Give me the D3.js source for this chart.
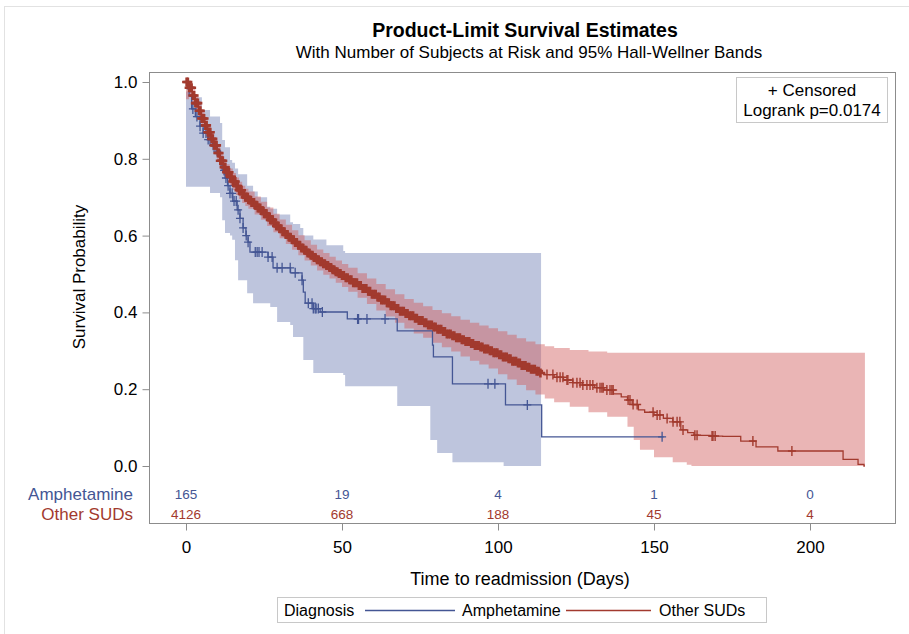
<!DOCTYPE html>
<meta charset="utf-8">
<title>Product-Limit Survival Estimates</title>
<script src="https://cdn.jsdelivr.net/npm/d3@7"></script>
<style>
  body { margin: 0; background: #fff; }
  svg text { font-family: "Liberation Sans", Arial, sans-serif; }
  .axis path, .axis line { stroke: #8c8c8c; }
  .axis text { font-size: 17px; fill: #000; }
</style>
<body>
<svg></svg>
<script>
// ---- data ----
var groups = ["Amphetamine", "Other SUDs"];
var riskDays = [0, 50, 100, 150, 200];
var riskAmph = [165, 19, 4, 1, 0];
var riskOther = [4126, 668, 188, 45, 4];
var yTicks = [0, 0.2, 0.4, 0.6, 0.8, 1.0];
var xTicks = [0, 50, 100, 150, 200];

// [day, survival] step points
var amphSurv = [[0,1.0],[0.5,0.982],[1,0.964],[1.8,0.93],[3,0.91],[4.5,0.885],[5.5,0.867],[7,0.85],[8.5,0.835],
  [10,0.82],[11,0.795],[11.6,0.77],[12.5,0.75],[13.3,0.73],[14.1,0.71],[15,0.69],[16.4,0.667],[17.3,0.645],
  [18.3,0.62],[19.2,0.6],[19.9,0.583],[20.5,0.557],[26.3,0.544],[27.9,0.516],[33.5,0.503],[37.2,0.484],
  [37.6,0.453],[38.2,0.424],[40.8,0.41],[43,0.401],[51.7,0.383],[67.7,0.352],[79,0.315],[79.3,0.284],
  [85.4,0.214],[102.4,0.159],[114,0.076],[153.1,0.076]];
var otherSurv = [[0,1.0],[1,0.985],[2,0.965],[3,0.945],[4,0.925],[5,0.905],[6,0.887],[7,0.869],[8,0.852],
  [9,0.835],[10,0.815],[11,0.795],[12,0.778],[13,0.765],[14,0.753],[15,0.741],[16,0.729],[17,0.718],[18,0.708],
  [19,0.7],[20,0.693],[21,0.686],[22,0.679],[23,0.672],[24,0.665],[25,0.657],[26,0.649],[27,0.641],[28,0.633],
  [29,0.625],[30,0.618],[31,0.61],[32,0.603],[33,0.596],[34,0.589],[35,0.582],[36,0.575],[37,0.568],[38,0.562],
  [39,0.555],[40,0.549],[41,0.543],[42,0.537],[43,0.532],[44,0.527],[45,0.522],[46,0.517],[47,0.511],[48,0.506],
  [49,0.501],[50,0.496],[51,0.49],[52,0.485],[53.5,0.477],[55,0.47],[56.5,0.462],[58,0.455],[59.5,0.447],
  [61,0.44],[62.5,0.432],[64,0.425],[65.5,0.417],[67,0.41],[68.5,0.403],[70,0.397],[71.5,0.391],[73,0.385],
  [74.5,0.379],[76,0.373],[77.5,0.367],[79,0.362],[80.5,0.356],[82,0.35],[83.5,0.344],[85,0.339],[86.5,0.334],
  [88,0.329],[89.5,0.324],[91,0.319],[92.5,0.314],[94,0.31],[95.5,0.305],[97,0.3],[98.5,0.295],[100,0.29],
  [101.5,0.284],[103,0.279],[104.5,0.273],[106,0.268],[107.5,0.262],[109,0.257],[110.5,0.252],[112,0.247],
  [113.5,0.242],[115,0.238],[118,0.231],[121,0.224],[124,0.217],[127,0.211],[131,0.204],
  [134,0.198],[137,0.188],[139.5,0.18],[141.5,0.172],[143,0.16],[145,0.146],[147,0.14],[150,0.133],[153,0.124],
  [156,0.115],[158.6,0.094],[160.8,0.087],[162.8,0.08],[168,0.078],[172,0.077],[177.8,0.065],[182.7,0.05],
  [189.7,0.039],[210.6,0.017],[215.4,0.004],[217.3,0],[217.6,0]];

// [day, lower, upper] Hall-Wellner band steps
var amphBand = [[0,0.727,0.975],[2.2,0.727,0.96],[5.1,0.727,0.927],[7.7,0.711,0.91],[10.9,0.7,0.893],
  [11.6,0.64,0.849],[12.5,0.607,0.83],[14.1,0.6,0.797],[14.8,0.589,0.79],[15.7,0.536,0.775],[16.7,0.484,0.76],
  [19.6,0.45,0.73],[21.5,0.424,0.715],[23,0.424,0.7],[26,0.424,0.675],[27,0.414,0.67],[29.2,0.375,0.655],
  [33.4,0.367,0.635],[34.3,0.336,0.63],[36.6,0.336,0.62],[37.6,0.276,0.6],[40.8,0.242,0.59],[45,0.242,0.575],
  [50.4,0.237,0.56],[51,0.208,0.555],[67.7,0.156,0.555],[78.3,0.068,0.555],[80.5,0.034,0.555],
  [85.4,0.01,0.555],[101.8,0,0.555],[113.8,0,0.555]];
var otherBand = [[0,0.955,1.0],[1,0.962,0.998],[2,0.945,0.982],[3,0.925,0.963],[4,0.905,0.944],[5,0.884,0.925],
  [6,0.866,0.907],[7,0.848,0.889],[8,0.831,0.872],[9,0.813,0.855],[10,0.793,0.836],[11,0.773,0.816],
  [12,0.756,0.799],[13,0.743,0.786],[14,0.731,0.775],[15,0.719,0.763],[16,0.706,0.751],[17,0.695,0.74],
  [18,0.685,0.73],[19,0.677,0.722],[20,0.67,0.715],[22,0.655,0.702],[24,0.641,0.688],[26,0.625,0.673],
  [28,0.609,0.657],[30,0.593,0.642],[32,0.578,0.628],[34,0.563,0.614],[36,0.549,0.601],[38,0.535,0.588],
  [40,0.522,0.576],[42,0.509,0.564],[44,0.498,0.555],[46,0.488,0.545],[48,0.477,0.535],[50,0.466,0.526],
  [52,0.454,0.516],[55,0.438,0.502],[58,0.422,0.488],[61,0.405,0.474],[64,0.389,0.46],[67,0.373,0.447],
  [70,0.358,0.435],[73,0.345,0.425],[76,0.334,0.416],[79,0.321,0.406],[82,0.309,0.398],[85,0.298,0.39],
  [88,0.285,0.381],[91,0.274,0.373],[94,0.264,0.366],[97,0.254,0.359],[100,0.239,0.351],[103,0.225,0.342],
  [106,0.211,0.333],[109,0.197,0.324],[112,0.186,0.317],[115,0.176,0.312],[118,0.166,0.307],[123,0.154,0.302],
  [129,0.14,0.298],[135,0.128,0.295],[141.5,0.102,0.295],[143.5,0.068,0.295],[145.5,0.042,0.295],
  [150,0.023,0.295],[156,0.01,0.295],[160.5,0.003,0.295],[162,0,0.295],[217.6,0,0.295]];

// censoring times (days)
var amphCens = [2.2,3.5,4.5,5.5,6.4,7.1,7.7,8.7,10,11.2,12.2,12.8,13.5,14.1,14.8,15.4,16.1,16.7,17.3,18.3,
  19.3,19.9,22.2,22.8,23.4,24.4,26.3,27.6,29.2,30.8,33.4,35,37.2,39.2,40.4,40.8,41.4,41.7,42.4,43.7,
  55,55.3,58,63.8,96.8,99,109.4,152.6];
var otherCens = [0.2,0.6,1,1.4,1.8,2.2,2.6,3,3.4,3.8,4.2,4.6,5,5.4,5.8,6.2,6.6,7,7.4,7.8,8.2,8.6,9,9.4,9.8,
  10.2,10.6,11,11.4,11.8,12.2,12.6,13,13.4,13.8,14.2,14.6,15,15.4,15.8,16.2,16.6,17,17.4,17.8,18.2,18.6,19,
  19.4,19.8,20.2,20.6,21,21.4,21.8,22.2,22.6,23,23.4,23.8,24.2,24.6,25,25.4,25.8,26.2,26.6,27,27.4,27.8,28.2,
  28.6,29,29.5,30,30.5,31,31.5,32,32.5,33,33.5,34,34.5,35,35.5,36,36.5,37,37.5,38,38.5,39,39.5,40,40.5,41,
  41.5,42,42.5,43,43.5,44,44.5,45,45.5,46,46.5,47,47.5,48,48.5,49,49.5,50,50.6,51.2,51.8,52.4,53,53.6,54.2,
  54.8,55.4,56,56.6,57.2,57.8,58.4,59,59.6,60.2,60.8,61.4,62,62.6,63.2,63.8,64.4,65,65.6,66.2,66.8,67.4,68,
  68.6,69.2,69.8,70.4,71,71.6,72.2,72.8,73.4,74,74.6,75.2,75.8,76.4,77,77.6,78.2,78.8,79.4,80,80.6,81.2,81.8,
  82.4,83,83.6,84.2,84.8,85.4,86,86.6,87.2,87.8,88.4,89,89.6,90.2,90.8,91.4,92,92.6,93.2,93.8,94.4,95,95.6,
  96.2,96.8,97.4,98,98.6,99.2,99.8,100.4,101,101.6,102.2,102.8,103.4,104,104.6,105.2,105.8,106.4,107,107.6,
  108.2,108.8,109.4,110,110.6,111.2,111.8,112.4,113,113.6,
  115.7,117.6,118.9,119.9,120.8,122.1,122.4,124,125.3,126.3,127.2,128.5,129.5,130.4,131.7,132.7,133.3,
  133.7,134.9,135.9,136.5,136.9,141.7,142.3,143.3,144.6,149.7,151,151.9,154.2,156.1,157.4,158.3,159.3,
  163.1,163.8,168.6,168.9,169.6,181.7,194.2];

var blue = "#445694", red = "#a23a2e";

var width = 909, height = 634;
var svg = d3.select("svg").attr("width", width).attr("height", height);

// light outer border of the image
svg.append("rect").attr("x", 4.5).attr("y", 6.5).attr("width", 940).attr("height", 700)
  .attr("fill", "none").attr("stroke", "#e2e2e2");

var frame = {left: 149.5, top: 72.5, right: 895.5, bottom: 523.5};

var x = d3.scaleLinear().domain([0, 200]).range([186, 810]);
var y = d3.scaleLinear().domain([0, 1]).range([466, 82]);

// bands
var band = d3.area().curve(d3.curveStepAfter)
  .x(function(d) { return x(d[0]); })
  .y0(function(d) { return y(d[1]); })
  .y1(function(d) { return y(d[2]); });

svg.append("path").datum(amphBand).attr("d", band)
  .attr("fill", "#6f7eb3").attr("fill-opacity", 0.45);
svg.append("path").datum(otherBand).attr("d", band)
  .attr("fill", "#d05b5b").attr("fill-opacity", 0.45);

// survival steps
var line = d3.line().curve(d3.curveStepAfter)
  .x(function(d) { return x(d[0]); })
  .y(function(d) { return y(d[1]); });

svg.append("path").datum(amphSurv).attr("d", line)
  .attr("fill", "none").attr("stroke", blue).attr("stroke-width", 1.3);
svg.append("path").datum(otherSurv).attr("d", line)
  .attr("fill", "none").attr("stroke", red).attr("stroke-width", 1.3);

// censor marks
var bis = d3.bisector(function(d) { return d[0]; }).right;
function survAt(curve, t) { return curve[Math.max(0, bis(curve, t) - 1)][1]; }

function plusPath(t, curve, hw, hh) {
  var cx = x(t), cy = y(survAt(curve, t));
  return "M" + (cx - hw) + "," + cy + "H" + (cx + hw) + "M" + cx + "," + (cy - hh) + "V" + (cy + hh);
}

svg.append("g").selectAll("path").data(amphCens).enter().append("path")
  .attr("d", function(t) { return plusPath(t, amphSurv, 4, 5); })
  .attr("stroke", blue).attr("stroke-width", 1.3).attr("fill", "none");
// the early red marks are so close together that they merge into a thick line
svg.append("g").selectAll("path").data(otherCens).enter().append("path")
  .attr("d", function(t) { return t < 114 ? plusPath(t, otherSurv, 4.5, 4.5) : plusPath(t, otherSurv, 4, 5); })
  .attr("stroke", red).attr("stroke-width", function(t) { return t < 114 ? 2.6 : 1.4; })
  .attr("fill", "none");

// frame
svg.append("rect")
  .attr("x", frame.left).attr("y", frame.top)
  .attr("width", frame.right - frame.left).attr("height", frame.bottom - frame.top)
  .attr("fill", "none").attr("stroke", "#8c8c8c");

// axes
var yAxis = svg.append("g").attr("class", "axis")
  .attr("transform", "translate(" + frame.left + ",0)")
  .call(d3.axisLeft(y).tickValues(yTicks).tickFormat(d3.format(".1f")).tickSize(7).tickPadding(5));
yAxis.select(".domain").remove();

var xAxis = svg.append("g").attr("class", "axis")
  .attr("transform", "translate(0," + frame.bottom + ")")
  .call(d3.axisBottom(x).tickValues(xTicks).tickFormat(d3.format("d")).tickSize(7).tickPadding(10));
xAxis.select(".domain").remove();

// at-risk table
var rows = [{name: groups[0], vals: riskAmph, color: blue, y: 494},
            {name: groups[1], vals: riskOther, color: red, y: 514}];
rows.forEach(function(r) {
  svg.append("text").attr("x", 133).attr("y", r.y).attr("dy", "0.35em")
    .attr("text-anchor", "end").attr("font-size", 17).attr("fill", r.color).text(r.name);
  svg.append("g").selectAll("text").data(r.vals).enter().append("text")
    .attr("x", function(d, i) { return x(riskDays[i]); }).attr("y", r.y).attr("dy", "0.35em")
    .attr("text-anchor", "middle").attr("font-size", 13.5).attr("fill", r.color)
    .text(function(d) { return d; });
});

// titles
svg.append("text").attr("x", 525).attr("y", 37).attr("text-anchor", "middle")
  .attr("font-size", 19.5).attr("font-weight", "bold").text("Product-Limit Survival Estimates");
svg.append("text").attr("x", 529).attr("y", 58).attr("text-anchor", "middle")
  .attr("font-size", 17).text("With Number of Subjects at Risk and 95% Hall-Wellner Bands");

svg.append("text").attr("x", 520).attr("y", 585).attr("text-anchor", "middle")
  .attr("font-size", 18).text("Time to readmission (Days)");
svg.append("text").attr("transform", "translate(85,277) rotate(-90)").attr("text-anchor", "middle")
  .attr("font-size", 17).text("Survival Probability");

// inset box
svg.append("rect").attr("x", 736.5).attr("y", 77.5).attr("width", 151).attr("height", 45)
  .attr("fill", "#fff").attr("stroke", "#c8c8c8");
svg.append("text").attr("x", 812).attr("y", 96).attr("text-anchor", "middle")
  .attr("font-size", 17).text("+ Censored");
svg.append("text").attr("x", 812).attr("y", 116).attr("text-anchor", "middle")
  .attr("font-size", 17).text("Logrank p=0.0174");

// bottom legend
var lg = svg.append("g");
lg.append("rect").attr("x", 277.5).attr("y", 597.5).attr("width", 489).attr("height", 25)
  .attr("fill", "#fff").attr("stroke", "#c8c8c8");
lg.append("text").attr("x", 284).attr("y", 610).attr("dy", "0.35em").attr("font-size", 16).text("Diagnosis");
var items = [{name: groups[0], color: blue, x0: 365, x1: 455, tx: 462},
             {name: groups[1], color: red, x0: 566, x1: 651, tx: 659}];
items.forEach(function(it) {
  lg.append("line").attr("x1", it.x0).attr("x2", it.x1).attr("y1", 610.5).attr("y2", 610.5)
    .attr("stroke", it.color).attr("stroke-width", 1.3);
  lg.append("text").attr("x", it.tx).attr("y", 610).attr("dy", "0.35em").attr("font-size", 16).text(it.name);
});
</script>
</body>
